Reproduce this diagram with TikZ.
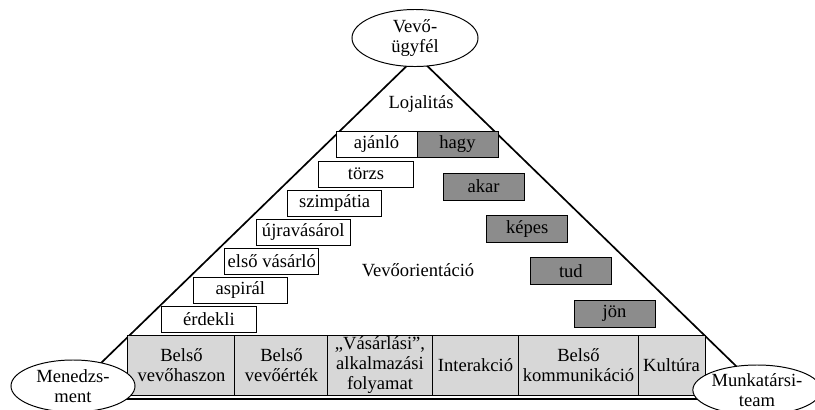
\documentclass[tikz,border=0pt]{standalone}
\usepackage{fontspec}
\setmainfont{Liberation Serif}
\usetikzlibrary{shapes.geometric}
\definecolor{cellgray}{RGB}{215,215,215}
\definecolor{stepgray}{RGB}{140,140,140}
\begin{document}
\begin{tikzpicture}[x=0.025cm,y=-0.025cm,
  txt/.style={font=\fontsize{13.2}{14.5}\selectfont},
  wbox/.style={txt,draw,fill=white,line width=0.7pt,minimum width=2.35cm,minimum height=0.65cm,inner sep=0pt},
  gbox/.style={txt,draw,fill=stepgray,line width=0.7pt,minimum width=2.025cm,minimum height=0.675cm,inner sep=0pt},
  cell/.style={txt,draw,fill=cellgray,line width=0.7pt,minimum height=1.5cm,inner sep=0pt,align=center},
  party/.style={txt,draw,ellipse,fill=white,line width=0.7pt,inner sep=0pt,align=center}]
\useasboundingbox (0,0) rectangle (815,409);
\clip (0,0) rectangle (815,409);

% Triangle
\coordinate (apex) at (417,56);
\coordinate (bl) at (64,399);
\coordinate (br) at (770,399);
\draw[line width=1.2pt] (bl) -- (apex) -- (br);
\draw[line width=1.5pt] (bl) -- (br);

% Bottom cells
\node[cell,minimum width=2.675cm] (bvh) at (181.5,365) {Belső\\vevőhaszon};
\node[cell,minimum width=2.325cm] (bve) at (281.5,365) {Belső\\vevőérték};
\node[cell,minimum width=2.6cm] (vaf) at (380,365) {„Vásárlási”,\\alkalmazási\\folyamat};
\node[cell,minimum width=2.175cm] (inter) at (475.5,365) {Interakció};
\node[cell,minimum width=2.975cm] (bkom) at (578.5,365) {Belső\\kommunikáció};
\node[cell,minimum width=1.675cm] (kult) at (671.5,365) {Kultúra};

% Left staircase
\foreach \nm/\lab [count=\i from 0] in {erdekli/érdekli,aspiral/aspirál,elso/első vásárló,ujra/újravásárol,szimp/szimpátia,torzs/törzs}
  \node[wbox] (\nm) at ({209+31.4*\i},{319-29*\i}) {\lab};
\node[wbox,minimum width=2.025cm] (ajanlo) at (376.5,144) {ajánló};

% Right staircase
\node[gbox,minimum height=0.65cm] (hagy) at (457.5,144) {hagy};
\foreach \nm/\lab [count=\i from 0] in {akar/akar,kepes/képes,tud/tud,jon/jön}
  \node[gbox] (\nm) at ({483.5+43.7*\i},{186.5+42.4*\i}) {\lab};

% Labels
\node[txt] (loj) at (421,104) {Lojalitás};
\node[txt] (orient) at (418,270) {Vevőorientáció};

% Corner ellipses
\node[party,minimum width=3.15cm,minimum height=1.425cm] (vevo) at (415,38) {Vevő-\\ügyfél};
\node[party,minimum width=3.1cm,minimum height=1.3cm] (menedzs) at (73,386) {Menedzs-\\ment};
\node[party,minimum width=3.1cm,minimum height=1.25cm] (munka) at (757,390) {Munkatársi-\\team};

\end{tikzpicture}
\end{document}
